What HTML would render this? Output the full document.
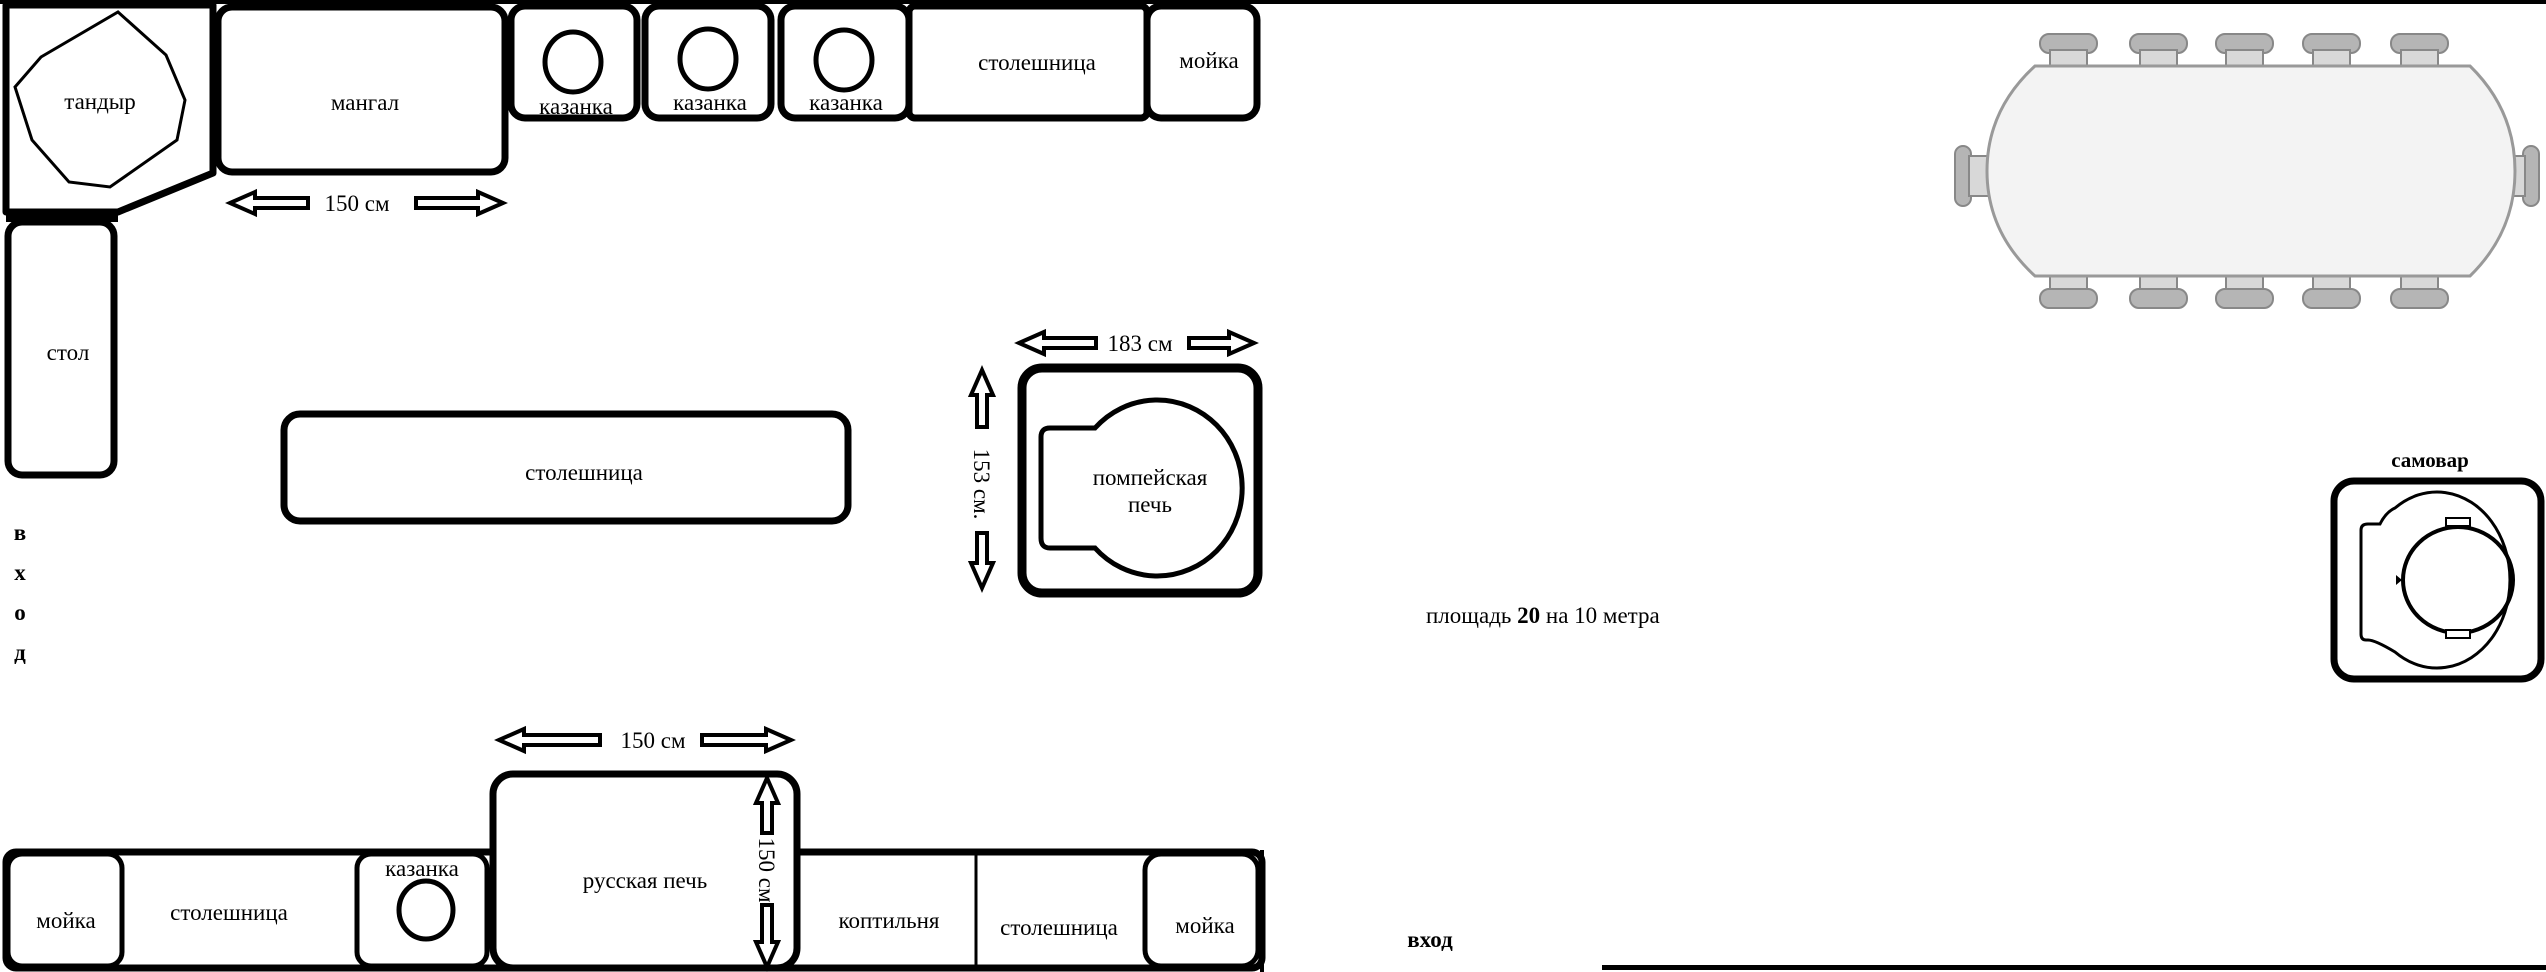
<!DOCTYPE html>
<html><head><meta charset="utf-8"><style>
html,body{margin:0;padding:0;background:#fff;}
svg{display:block;}
text{font-family:"Liberation Serif","Noto Serif CJK SC",serif;fill:#000;}
</style></head><body>
<svg width="2546" height="972" viewBox="0 0 2546 972" xmlns="http://www.w3.org/2000/svg">
<rect width="2546" height="972" fill="#fff"/>
<!-- walls -->
<rect x="0" y="0" width="2546" height="4" fill="#000"/>
<rect x="1602" y="965" width="944" height="5" fill="#000"/>

<g fill="#fff" stroke="#000" stroke-width="7" stroke-linejoin="round">
<!-- top row -->
<path d="M6,5 H213 V173 L118,212 H6 Z"/>
<rect x="218" y="7" width="287" height="165" rx="14"/>
<rect x="511" y="6" width="126" height="112" rx="14"/>
<rect x="645" y="6" width="126" height="112" rx="14"/>
<rect x="781" y="6" width="128" height="112" rx="14"/>
<rect x="909" y="6" width="238" height="112" rx="6"/>
<rect x="1147" y="6" width="110" height="112" rx="14"/>
<rect x="8" y="222" width="106" height="253" rx="14"/>
<!-- middle -->
<rect x="284" y="414" width="564" height="107" rx="16"/>
<rect x="1022" y="368" width="236" height="225" rx="20" stroke-width="9"/>
<!-- bottom row -->
<rect x="6" y="852" width="1256" height="116" rx="10"/>
<rect x="8" y="854" width="114" height="112" rx="14" stroke-width="5"/>
<rect x="357" y="854" width="130" height="112" rx="14" stroke-width="5"/>
<rect x="493" y="774" width="304" height="194" rx="20"/>
<rect x="1145" y="854" width="113" height="112" rx="16" stroke-width="5"/>
<!-- samovar box -->
<rect x="2334" y="481" width="207" height="198" rx="20" stroke-width="7"/>
</g>
<rect x="6" y="209" width="112" height="13" fill="#000"/>
<line x1="976" y1="854" x2="976" y2="968" stroke="#000" stroke-width="3"/>
<line x1="1262" y1="850" x2="1262" y2="972" stroke="#000" stroke-width="4"/>

<!-- tandyr blob -->
<path d="M118,12 L166,55 L185,100 L177,140 L110,187 L69,182 L32,140 L15,87 L41,57 Z" fill="none" stroke="#000" stroke-width="3"/>

<!-- kazanka circles -->
<g fill="none" stroke="#000" stroke-width="5">
<ellipse cx="573" cy="62" rx="28" ry="30"/>
<ellipse cx="708" cy="59" rx="28" ry="30"/>
<ellipse cx="844" cy="60" rx="28" ry="30"/>
<ellipse cx="426" cy="910" rx="27" ry="29"/>
</g>

<!-- pompeii oven inner -->
<path d="M1095,428 A85,88 0 1 1 1095,548 L1050,548 Q1041,548 1041,538 L1041,437 Q1041,428 1050,428 Z" fill="#fff" stroke="#000" stroke-width="5"/>

<!-- samovar inner -->
<path d="M2395,508 A73,88 0 1 1 2395,652 Q2375,640 2368,640 L2366,640 Q2361,640 2361,634 L2361,530 Q2361,524 2368,524 L2380,524 Q2386,512 2395,508 Z" fill="#fff" stroke="#000" stroke-width="3"/>
<ellipse cx="2458" cy="580" rx="55" ry="53" fill="none" stroke="#000" stroke-width="4"/>
<rect x="2446" y="518" width="24" height="8" fill="#fff" stroke="#000" stroke-width="2"/>
<rect x="2446" y="630" width="24" height="8" fill="#fff" stroke="#000" stroke-width="2"/>
<path d="M2396,575 l6,5 -6,5 z" fill="#000"/>

<!-- arrows -->
<g fill="#fff" stroke="#000" stroke-width="4" stroke-linejoin="miter">
<path d="M230,203 L255,192 L255,198 L308,198 L308,208 L255,208 L255,214 Z"/>
<path d="M503,203 L478,192 L478,198 L416,198 L416,208 L478,208 L478,214 Z"/>
<path d="M1019,343 L1044,332 L1044,338 L1096,338 L1096,348 L1044,348 L1044,354 Z"/>
<path d="M1254,343 L1229,332 L1229,338 L1189,338 L1189,348 L1229,348 L1229,354 Z"/>
<path d="M499,740 L524,729 L524,735 L600,735 L600,745 L524,745 L524,751 Z"/>
<path d="M791,740 L766,729 L766,735 L702,735 L702,745 L766,745 L766,751 Z"/>
<path d="M982,370 L971,395 L977,395 L977,427 L987,427 L987,395 L993,395 Z"/>
<path d="M982,588 L971,563 L977,563 L977,533 L987,533 L987,563 L993,563 Z"/>
<path d="M767,778 L756,803 L762,803 L762,833 L772,833 L772,803 L778,803 Z"/>
<path d="M767,967 L756,942 L762,942 L762,905 L772,905 L772,942 L778,942 Z"/>
</g>

<!-- dining table -->
<g stroke="#888" stroke-width="2" fill="#b5b5b5">
<g id="ct">
<rect x="2040" y="34" width="57" height="19" rx="9"/>
<rect x="2050" y="50" width="37" height="18" fill="#d8d8d8"/>
</g>
<rect x="2130" y="34" width="57" height="19" rx="9"/><rect x="2140" y="50" width="37" height="18" fill="#d8d8d8"/>
<rect x="2216" y="34" width="57" height="19" rx="9"/><rect x="2226" y="50" width="37" height="18" fill="#d8d8d8"/>
<rect x="2303" y="34" width="57" height="19" rx="9"/><rect x="2313" y="50" width="37" height="18" fill="#d8d8d8"/>
<rect x="2391" y="34" width="57" height="19" rx="9"/><rect x="2401" y="50" width="37" height="18" fill="#d8d8d8"/>
<rect x="2050" y="272" width="37" height="18" fill="#d8d8d8"/><rect x="2040" y="289" width="57" height="19" rx="9"/>
<rect x="2140" y="272" width="37" height="18" fill="#d8d8d8"/><rect x="2130" y="289" width="57" height="19" rx="9"/>
<rect x="2226" y="272" width="37" height="18" fill="#d8d8d8"/><rect x="2216" y="289" width="57" height="19" rx="9"/>
<rect x="2313" y="272" width="37" height="18" fill="#d8d8d8"/><rect x="2303" y="289" width="57" height="19" rx="9"/>
<rect x="2401" y="272" width="37" height="18" fill="#d8d8d8"/><rect x="2391" y="289" width="57" height="19" rx="9"/>
<rect x="1955" y="146" width="16" height="60" rx="8"/><rect x="1969" y="156" width="20" height="40" fill="#d8d8d8"/>
<rect x="2523" y="146" width="16" height="60" rx="8"/><rect x="2499" y="156" width="26" height="40" fill="#d8d8d8"/>
</g>
<path d="M2035,66 L2470,66 Q2515,110 2515,171 Q2515,232 2470,276 L2035,276 Q1987,232 1987,171 Q1987,110 2035,66 Z" fill="#f3f3f3" stroke="#999" stroke-width="3"/>

<!-- labels -->
<g font-size="23" text-anchor="middle">
<text x="100" y="109">тандыр</text>
<text x="365" y="110">мангал</text>
<text x="576" y="114">казанка</text>
<text x="710" y="110">казанка</text>
<text x="846" y="110">казанка</text>
<text x="1037" y="70">столешница</text>
<text x="1209" y="68">мойка</text>
<text x="357" y="211">150 см</text>
<text x="68" y="360">стол</text>
<text x="584" y="480">столешница</text>
<text x="1140" y="351">183 см</text>
<text x="1150" y="485">помпейская</text>
<text x="1150" y="512">печь</text>
<text x="653" y="748">150 см</text>
<text x="422" y="876">казанка</text>
<text x="645" y="888">русская печь</text>
<text x="229" y="920">столешница</text>
<text x="66" y="928">мойка</text>
<text x="889" y="928">коптильня</text>
<text x="1059" y="935">столешница</text>
<text x="1205" y="933">мойка</text>
</g>
<text x="0" y="0" font-size="23" text-anchor="middle" transform="translate(974,484) rotate(90)">153 см.</text>
<text x="0" y="0" font-size="23" text-anchor="middle" transform="translate(759,870) rotate(90)">150 см</text>
<g font-size="23" font-weight="bold" text-anchor="middle">
<text x="20" y="540">в</text>
<text x="20" y="580">х</text>
<text x="20" y="620">о</text>
<text x="20" y="660">д</text>
<text x="1430" y="947">вход</text>
</g>
<text x="2430" y="467" font-size="21" font-weight="bold" text-anchor="middle">самовар</text>
<text x="1426" y="623" font-size="23">площадь <tspan font-weight="bold">20</tspan>  на  10 метра</text>
</svg>
</body></html>
